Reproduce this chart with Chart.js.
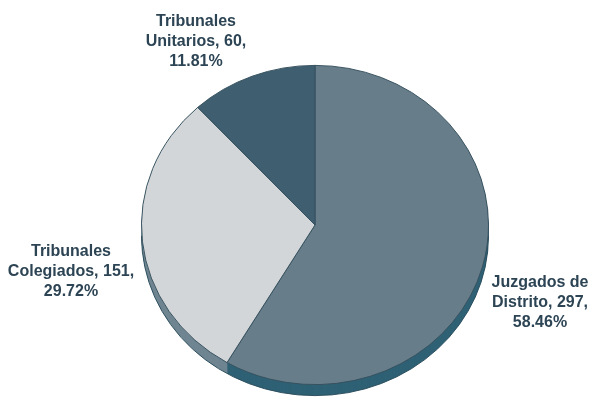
<!DOCTYPE html>
<html>
<head>
<meta charset="utf-8">
<script src="https://cdn.jsdelivr.net/npm/chart.js@4/dist/chart.umd.min.js"></script>
<style>
  html, body { margin: 0; padding: 0; background: #fff; }
  #wrap { width: 590px; height: 411px; position: relative; }
</style>
</head>
<body>
<div id="wrap"><canvas id="pie"></canvas></div>
<script>
// Datos
const categorias = [['Juzgados de', 'Distrito'], ['Tribunales', 'Colegiados'], ['Tribunales', 'Unitarios']];
const valores = [297, 151, 60];
const porcentajes = ['58.46%', '29.72%', '11.81%'];

const colores = ['#687d8a', '#d3d6d8', '#3f5e6f'];
const coloresLado = ['#2f6175', '#6f8591', '#2b4a5a'];
// posicion de etiquetas respecto al centro del pastel
const etiquetaOffset = [[225, 78], [-244, 47], [-119, -183]];

const squash = 0.92;   // inclinacion
const depth = 11;      // grosor

function pieGeom(chart) {
  const arc = chart.getDatasetMeta(0).data[0];
  return { cx: arc.x, cy: arc.y };
}

const pie3d = {
  id: 'pie3d',
  beforeDatasetsDraw(chart) {
    const ctx = chart.ctx;
    const { cx, cy } = pieGeom(chart);
    const arcs = chart.getDatasetMeta(0).data;
    // lado (grosor)
    for (let d = depth; d >= 1; d--) {
      ctx.save();
      ctx.translate(cx, cy + d);
      ctx.scale(1, squash);
      ctx.translate(-cx, -cy);
      arcs.forEach((a, i) => {
        ctx.beginPath();
        ctx.moveTo(a.x, a.y);
        ctx.arc(a.x, a.y, a.outerRadius, a.startAngle, a.endAngle);
        ctx.closePath();
        ctx.fillStyle = coloresLado[i];
        ctx.fill();
      });
      ctx.restore();
    }
    // borde inferior del lado
    ctx.save();
    ctx.translate(cx, cy + depth);
    ctx.scale(1, squash);
    ctx.translate(-cx, -cy);
    ctx.beginPath();
    ctx.arc(cx, cy, arcs[0].outerRadius, 0, Math.PI);
    ctx.strokeStyle = '#2a4c5c';
    ctx.lineWidth = 1;
    ctx.stroke();
    ctx.restore();
    // cara superior aplastada
    ctx.save();
    ctx.translate(cx, cy);
    ctx.scale(1, squash);
    ctx.translate(-cx, -cy);
  },
  afterDatasetsDraw(chart) {
    chart.ctx.restore();
    // etiquetas
    const ctx = chart.ctx;
    const { cx, cy } = pieGeom(chart);
    ctx.save();
    ctx.font = 'bold 16px "Liberation Sans", Arial, sans-serif';
    ctx.fillStyle = '#2c4454';
    ctx.textAlign = 'center';
    ctx.textBaseline = 'middle';
    categorias.forEach((cat, i) => {
      const lines = [cat[0], cat[1] + ', ' + valores[i] + ',', porcentajes[i]];
      const x = cx + etiquetaOffset[i][0];
      const y = cy + etiquetaOffset[i][1];
      lines.forEach((t, j) => ctx.fillText(t, x, y + (j - 1) * 20));
    });
    ctx.restore();
  }
};

new Chart(document.getElementById('pie'), {
  type: 'pie',
  data: {
    labels: categorias.map(c => c.join(' ')),
    datasets: [{
      data: valores,
      backgroundColor: colores,
      borderColor: '#35505e',
      borderWidth: 1
    }]
  },
  options: {
    responsive: true,
    maintainAspectRatio: false,
    animation: false,
    rotation: 0,
    layout: { padding: { left: 141, right: 101, top: 51, bottom: 12 } },
    plugins: { legend: { display: false }, tooltip: { enabled: false } }
  },
  plugins: [pie3d]
});
</script>
</body>
</html>
